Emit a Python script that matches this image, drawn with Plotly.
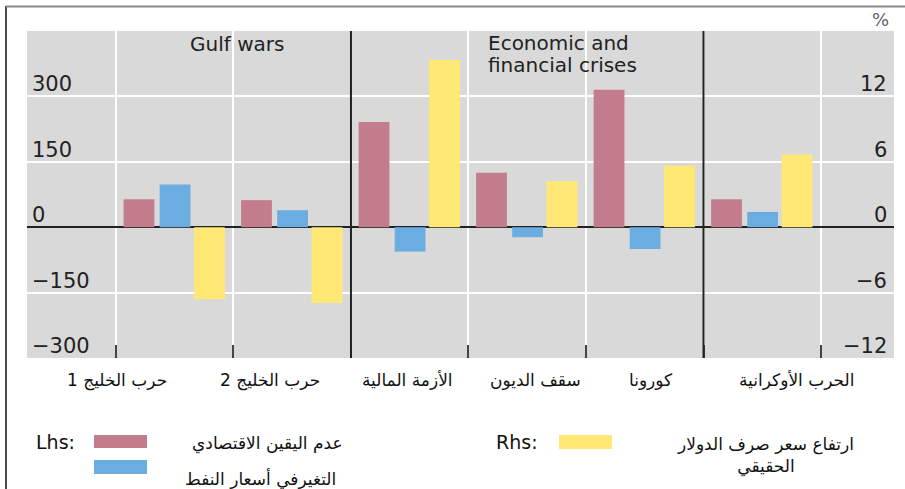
import plotly.graph_objects as go

# ---- data ----
categories = ["حرب الخليج 1", "حرب الخليج 2", "الأزمة المالية", "سقف الديون", "كورونا", "الحرب الأوكرانية"]
uncertainty = [64, 62, 241, 125, 315, 64]          # lhs
oil_change = [98, 39, -56, -23, -50, 35]            # lhs
dollar_real = [-6.6, -6.95, 15.35, 4.23, 5.63, 6.67]  # rhs, %
lhs_ticks = [-300, -150, 0, 150, 300]
rhs_ticks = [-12, -6, 0, 6, 12]
name_unc = "عدم اليقين الاقتصادي"
name_oil = "التغيرفي أسعار النفط"
name_usd = "ارتفاع سعر صرف الدولار<br>الحقيقي"

# ---- layout geometry (pixels) ----
W_FIG, H_FIG = 905, 489
L, R, T, B = 27, 894, 31, 358
PW, PH = R - L, B - T


def px2x(px):
    return (px - L) / PW


def py2y(py):
    return (B - py) / PH


def fmt(v):
    return str(v).replace("-", "\u2212")


xs = [i + 1 for i in range(len(categories))]
BAR_W = 0.262
PINK, BLUE, YELLOW = "#c27c8c", "#6aade0", "#ffe873"
FONT = "DejaVu Sans"

fig = go.Figure()
fig.add_trace(go.Bar(x=xs, y=uncertainty, width=BAR_W, offset=-0.435,
                     marker_color=PINK, marker_line_width=0, name=name_unc, yaxis="y"))
fig.add_trace(go.Bar(x=xs, y=oil_change, width=BAR_W, offset=-0.128,
                     marker_color=BLUE, marker_line_width=0, name=name_oil, yaxis="y"))
fig.add_trace(go.Bar(x=xs, y=dollar_real, width=BAR_W, offset=0.165,
                     marker_color=YELLOW, marker_line_width=0, name=name_usd, yaxis="y2"))

boundaries = [i + 0.5 for i in range(len(categories) + 1)]

shapes = []
for xv in (2.5, 5.5):
    shapes.append(dict(type="line", xref="x", yref="paper", x0=xv, x1=xv, y0=0, y1=1,
                       line=dict(color="#222", width=2), layer="above"))
shapes.append(dict(type="line", xref="paper", yref="paper", x0=px2x(6), x1=px2x(6),
                   y0=py2y(6), y1=py2y(489), line=dict(color="#111", width=1.5)))
shapes.append(dict(type="line", xref="paper", yref="paper", x0=px2x(6), x1=px2x(905),
                   y0=py2y(6.5), y1=py2y(6.5), line=dict(color="#888", width=2)))


def swatch(x0, x1, y0, y1, color):
    return dict(type="rect", xref="paper", yref="paper", x0=px2x(x0), x1=px2x(x1),
                y0=py2y(y1), y1=py2y(y0), fillcolor=color, line=dict(width=0))


shapes.append(swatch(94, 147, 435, 448, PINK))
shapes.append(swatch(94, 147, 460, 474, BLUE))
shapes.append(swatch(559, 612, 435, 449, YELLOW))

annotations = []
for v in lhs_ticks:
    annotations.append(dict(x=px2x(30), y=v, xref="paper", yref="y", text=fmt(v),
                            showarrow=False, yshift=12, xanchor="left", yanchor="middle",
                            font=dict(family=FONT, size=21, color="#222")))
for v in rhs_ticks:
    annotations.append(dict(x=px2x(889), y=v, xref="paper", yref="y2", text=fmt(v),
                            showarrow=False, yshift=12, xanchor="right", yanchor="middle",
                            font=dict(family=FONT, size=21, color="#222")))

label_shift = [-0.49, -0.19, -0.015, 0.07, 0.05, 0.29]
for xv, lab, sh in zip(xs, categories, label_shift):
    annotations.append(dict(x=xv + sh, y=py2y(380), xref="x", yref="paper", text=lab,
                            showarrow=False, font=dict(family=FONT, size=17, color="#111"),
                            xanchor="center", yanchor="middle"))

annotations += [
    dict(x=1.53, y=py2y(44), xref="x", yref="paper", text="Gulf wars", showarrow=False,
         font=dict(family=FONT, size=20, color="#222"), xanchor="center", yanchor="middle"),
    dict(x=3.649, y=py2y(43), xref="x", yref="paper", text="Economic and", showarrow=False,
         font=dict(family=FONT, size=20, color="#222"), xanchor="left", yanchor="middle"),
    dict(x=3.649, y=py2y(65), xref="x", yref="paper", text="financial crises", showarrow=False,
         font=dict(family=FONT, size=20, color="#222"), xanchor="left", yanchor="middle"),
    dict(x=px2x(880), y=py2y(19), xref="paper", yref="paper", text="%", showarrow=False,
         font=dict(family=FONT, size=18, color="#5a6470"), xanchor="center", yanchor="middle"),
    dict(x=px2x(34), y=py2y(442), xref="paper", yref="paper", text="Lhs:", showarrow=False,
         font=dict(family=FONT, size=19, color="#111"), xanchor="left", yanchor="middle"),
    dict(x=px2x(267), y=py2y(443), xref="paper", yref="paper", text=name_unc, showarrow=False,
         font=dict(family=FONT, size=17, color="#111"), xanchor="center", yanchor="middle"),
    dict(x=px2x(260), y=py2y(479), xref="paper", yref="paper", text=name_oil, showarrow=False,
         font=dict(family=FONT, size=17, color="#111"), xanchor="center", yanchor="middle"),
    dict(x=px2x(494), y=py2y(442), xref="paper", yref="paper", text="Rhs:", showarrow=False,
         font=dict(family=FONT, size=19, color="#111"), xanchor="left", yanchor="middle"),
    dict(x=px2x(765), y=py2y(455), xref="paper", yref="paper", text=name_usd, showarrow=False,
         font=dict(family=FONT, size=17, color="#111"), xanchor="center", yanchor="middle",
         align="center"),
]

fig.update_layout(
    width=W_FIG, height=H_FIG,
    margin=dict(l=L, r=W_FIG - R, t=T, b=H_FIG - B),
    paper_bgcolor="white", plot_bgcolor="#d9d9d9",
    barmode="overlay", showlegend=False, hovermode=False,
    shapes=shapes, annotations=annotations,
    xaxis=dict(range=[-0.257, 7.121], tickvals=boundaries, showticklabels=False,
               ticks="inside", ticklen=13, tickwidth=2, tickcolor="#444",
               showgrid=True, gridcolor="white", gridwidth=2, zeroline=False,
               showline=False),
    yaxis=dict(range=[-300, 450], tickvals=lhs_ticks, ticks="", showticklabels=False,
               showgrid=True, gridcolor="white", gridwidth=2,
               zeroline=True, zerolinecolor="#222", zerolinewidth=1.5, showline=False),
    yaxis2=dict(range=[-12, 18], tickvals=rhs_ticks, overlaying="y", side="right",
                ticks="", showticklabels=False,
                showgrid=False, zeroline=False, showline=False),
)

fig.write_html("out.html", config={"displayModeBar": False},
               post_script="document.body.style.margin='0';")
